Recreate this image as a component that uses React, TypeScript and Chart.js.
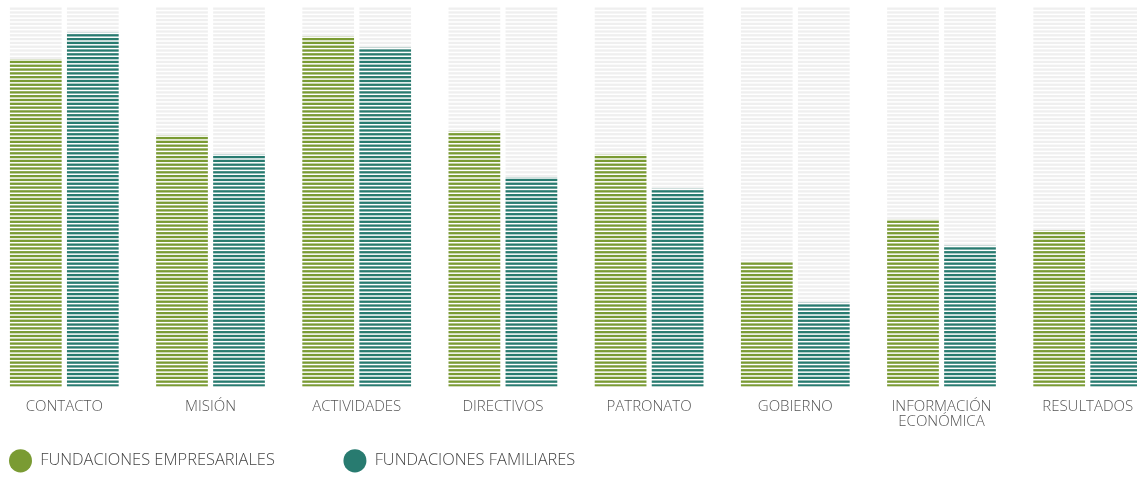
import React, { useEffect, useRef } from 'react';
import { Chart, registerables } from 'chart.js';

Chart.register(...registerables);

const categories: (string | string[])[] = [
  'CONTACTO',
  'MISIÓN',
  'ACTIVIDADES',
  'DIRECTIVOS',
  'PATRONATO',
  'GOBIERNO',
  ['INFORMACIÓN', 'ECONÓMICA'],
  'RESULTADOS',
];
const seriesNames = ['FUNDACIONES EMPRESARIALES', 'FUNDACIONES FAMILIARES'];
const empresariales = [86, 66, 92, 67, 61, 33, 44, 41];
const familiares = [93, 61, 89, 55, 52, 22, 37, 25];
const track = [100, 100, 100, 100, 100, 100, 100, 100];

const GREEN = '#7a9b33';
const TEAL = '#287b70';
const GREY = '#efefef';
const FONT = '"Open Sans", sans-serif';

const CANVAS_W = 1200;
const CANVAS_H = 479;

const patternCache = new Map<string, CanvasPattern | string>();

function stripes(chart: any, color: string): CanvasPattern | string {
  const area = chart.chartArea;
  const y = chart.scales && chart.scales.y;
  if (!area || !y) return color;
  const key = `${color}|${area.top}|${area.bottom}|${chart.height}`;
  const hit = patternCache.get(key);
  if (hit) return hit;
  const c = document.createElement('canvas');
  c.width = 4;
  c.height = Math.ceil(chart.height) + 2;
  const g = c.getContext('2d')!;
  g.fillStyle = color;
  for (let k = 0; k < 100; k++) {
    const yb = y.getPixelForValue(k);
    const yt = y.getPixelForValue(k + 1);
    const h = yb - yt;
    g.fillRect(0, yt + h * 0.4, 4, h * 0.6);
  }
  const p = chart.ctx.createPattern(c, 'repeat-x') || color;
  patternCache.set(key, p);
  return p;
}

const barBase = {
  categoryPercentage: 0.78,
  barPercentage: 0.907,
  clip: false as any,
  borderWidth: 0,
};

export default function App() {
  const ref = useRef<HTMLCanvasElement>(null);

  useEffect(() => {
    if (!ref.current) return;
    const legendFont = `300 16.4px ${FONT}`;
    const m = document.createElement('canvas').getContext('2d')!;
    m.font = legendFont;
    const w1 = m.measureText(seriesNames[0]).width;
    const sp = m.measureText('\u00a0').width || 4;
    const n = Math.max(0, Math.round((294.1 - w1) / sp));
    const firstLabel = seriesNames[0] + '\u00a0'.repeat(n);

    const chart = new Chart(ref.current, {
      type: 'bar',
      data: {
        labels: categories as any,
        datasets: [
          {
            ...barBase,
            label: seriesNames[0],
            data: empresariales,
            stack: 'a',
            order: 1,
            backgroundColor: (ctx: any) => stripes(ctx.chart, GREEN),
          },
          {
            ...barBase,
            label: seriesNames[1],
            data: familiares,
            stack: 'b',
            order: 1,
            backgroundColor: (ctx: any) => stripes(ctx.chart, TEAL),
          },
          {
            ...barBase,
            label: 'track-a',
            data: track,
            stack: 'a',
            order: 2,
            backgroundColor: (ctx: any) => stripes(ctx.chart, GREY),
          },
          {
            ...barBase,
            label: 'track-b',
            data: track,
            stack: 'b',
            order: 2,
            backgroundColor: (ctx: any) => stripes(ctx.chart, GREY),
          },
        ],
      },
      options: {
        animation: false,
        responsive: true,
        maintainAspectRatio: false,
        layout: { padding: { top: 6, left: 0, right: CANVAS_W - 1087.7, bottom: 0 } },
        scales: {
          x: {
            type: 'category',
            offset: false,
            stacked: true,
            grid: { display: false, drawTicks: false },
            border: { display: false },
            ticks: {
              autoSkip: false,
              maxRotation: 0,
              minRotation: 0,
              padding: 13,
              color: '#555',
              font: { family: FONT, size: 15, weight: 300 as any, lineHeight: 1 },
            },
            afterFit: (s: any) => {
              s.height = 57;
            },
          },
          y: {
            min: 0,
            max: 100,
            stacked: false,
            grid: { display: false, drawTicks: false },
            border: { display: false },
            ticks: { display: false },
            afterFit: (s: any) => {
              s.width = 64.3;
            },
          },
        },
        plugins: {
          tooltip: { enabled: false },
          legend: {
            position: 'bottom',
            align: 'start',
            onClick: () => {},
            labels: {
              usePointStyle: true,
              pointStyleWidth: 23,
              padding: 9,
              color: '#444',
              font: { family: FONT, size: 16.4, weight: 300 as any },
              generateLabels: () =>
                [GREEN, TEAL].map((col, i) => ({
                  text: i === 0 ? firstLabel : seriesNames[i],
                  fillStyle: col,
                  strokeStyle: col,
                  lineWidth: 0,
                  pointStyle: 'circle',
                  hidden: false,
                  datasetIndex: i,
                  fontColor: '#444',
                })) as any,
            },
          },
        },
      },
    });
    return () => chart.destroy();
  }, []);

  return (
    <div
      style={{
        position: 'fixed',
        left: 0,
        top: 0,
        width: 1137,
        height: 477,
        overflow: 'hidden',
        background: '#fff',
      }}
    >
      <div style={{ position: 'relative', width: CANVAS_W, height: CANVAS_H }}>
        <canvas ref={ref} />
      </div>
    </div>
  );
}
